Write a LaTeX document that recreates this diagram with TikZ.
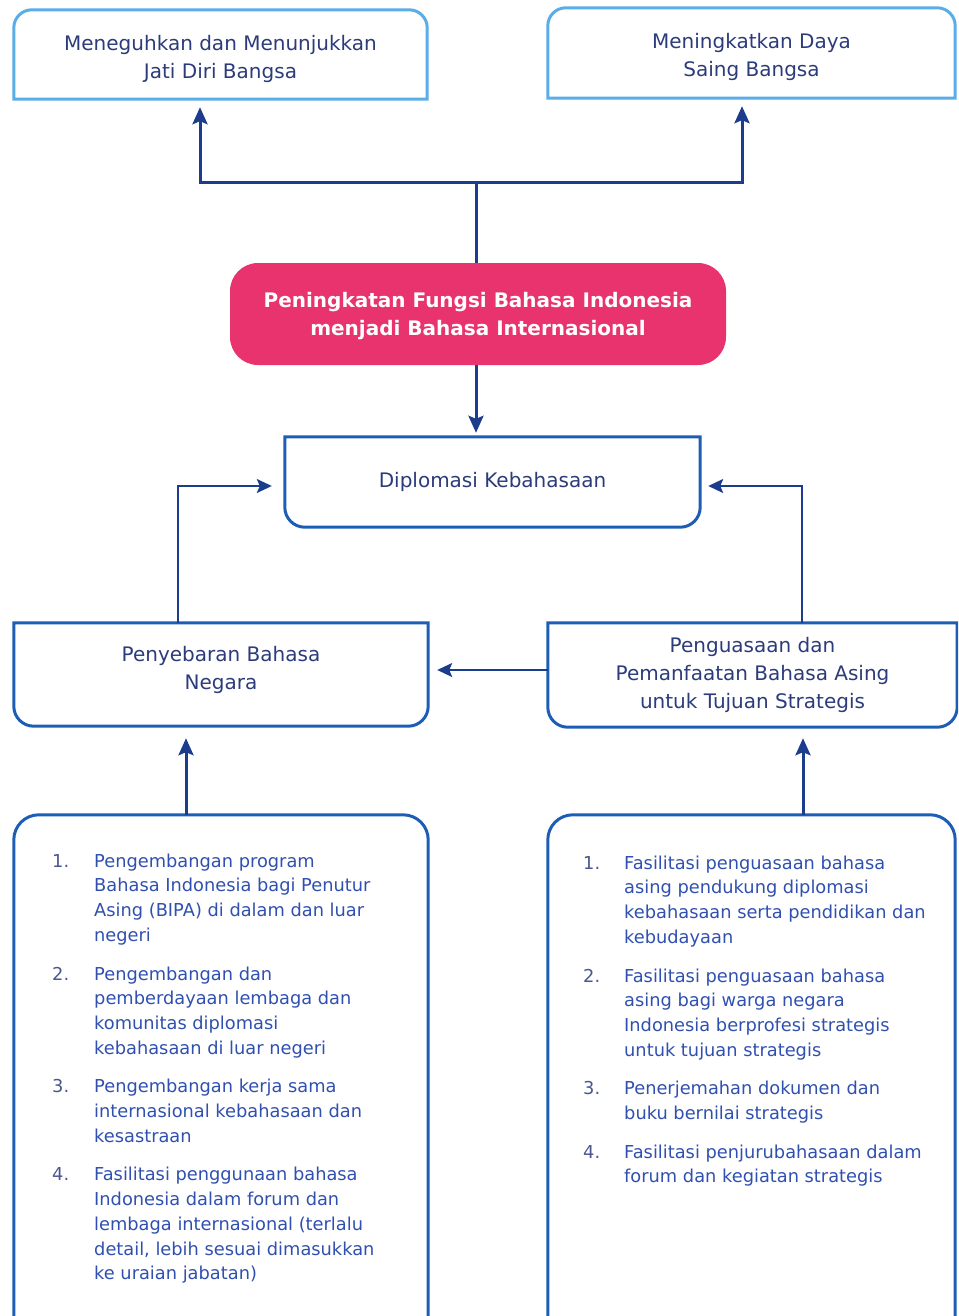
\documentclass[tikz,border=0pt]{standalone}
\usepackage{fontspec}
\setmainfont{DejaVu Sans}
\usetikzlibrary{arrows.meta,calc}

\definecolor{topc}{HTML}{5AAEE8}
\definecolor{midc}{HTML}{1E5DB6}
\definecolor{arrc}{HTML}{1B3D8C}
\definecolor{txtc}{HTML}{2C3B7A}
\definecolor{listc}{HTML}{3050B0}
\definecolor{numc}{HTML}{4A5690}
\definecolor{pinkc}{HTML}{E8336F}

\newcommand\toproundbox[3]{%
  \draw[#1] (#2.south west) -- ([yshift=-#3pt]#2.north west)
    arc[start angle=180,end angle=90,radius=#3pt]
    -- ([xshift=-#3pt]#2.north east)
    arc[start angle=90,end angle=0,radius=#3pt]
    -- (#2.south east) -- cycle;}
\newcommand\botroundbox[3]{%
  \draw[#1] (#2.north west) -- ([yshift=#3pt]#2.south west)
    arc[start angle=180,end angle=270,radius=#3pt]
    -- ([xshift=-#3pt]#2.south east)
    arc[start angle=270,end angle=360,radius=#3pt]
    -- (#2.north east) -- cycle;}
\newcommand\nm[1]{\textcolor{numc}{#1}}

\tikzset{
  boxtext/.style={inner sep=0pt, align=center, font=\fontsize{20}{28}\selectfont, text=txtc},
  topline/.style={draw=topc, line width=3pt},
  midline/.style={draw=midc, line width=3pt},
  thickln/.style={draw=arrc, line width=3pt},
  thickarr/.style={thickln, -{Stealth[length=17pt,width=15pt,inset=3pt]}},
  thinarr/.style={draw=arrc, line width=1.8pt, -{Stealth[length=15pt,width=14pt,inset=3pt]}},
  listtext/.style={inner sep=0pt, anchor=north west, font=\fontsize{17.8}{24.7}\selectfont, text=listc},
  pinkbox/.style={fill=pinkc, rounded corners=28pt, inner sep=0pt, align=center,
    font=\bfseries\fontsize{20}{28}\selectfont, text=white},
}

\begin{document}
\begin{tikzpicture}[x=1pt,y=1pt]
\useasboundingbox (0,0) rectangle (958,-1316);
\clip (0,0) rectangle (958,-1316);

% boxes
\node[boxtext, minimum width=413pt, minimum height=89pt] (t1) at (220.5,-54.5)
  {\rule{0pt}{25pt}Meneguhkan dan Menunjukkan\\Jati Diri Bangsa};
\node[boxtext, minimum width=407pt, minimum height=90pt] (t2) at (751.5,-53)
  {\rule{0pt}{23pt}Meningkatkan Daya\\Saing Bangsa};
\node[pinkbox, minimum width=496pt, minimum height=102pt] (pk) at (478,-314)
  {\rule{0pt}{19pt}Peningkatan Fungsi Bahasa Indonesia\\menjadi Bahasa Internasional};
\node[boxtext, minimum width=415pt, minimum height=90pt] (dip) at (492.5,-482)
  {Diplomasi Kebahasaan};
\node[boxtext, minimum width=414pt, minimum height=103pt] (pen) at (221,-674.5)
  {Penyebaran Bahasa\\Negara\rule[-12.7pt]{0pt}{1pt}};
\node[boxtext, minimum width=409pt, minimum height=104pt] (peng) at (752.5,-675)
  {Penguasaan dan\\Pemanfaatan Bahasa Asing\\untuk Tujuan Strategis};
\node[inner sep=0pt, minimum width=414pt, minimum height=515pt] (bl) at (221,-1072.5) {};
\node[inner sep=0pt, minimum width=407pt, minimum height=515pt] (br) at (751.5,-1072.5) {};

\toproundbox{topline}{t1}{18}
\toproundbox{topline}{t2}{18}
\botroundbox{midline}{dip}{20}
\botroundbox{midline}{pen}{20}
\botroundbox{midline}{peng}{20}
\toproundbox{midline}{bl}{25}
\toproundbox{midline}{br}{25}

% lists
\node[listtext] (l1) at (52,-849.7) {%
\begin{tabular}{@{}p{42pt}@{}l@{}}
\nm{1.} & Pengembangan program\\
 & Bahasa Indonesia bagi Penutur\\
 & Asing (BIPA) di dalam dan luar\\
 & negeri\\[14pt]
\nm{2.} & Pengembangan dan\\
 & pemberdayaan lembaga dan\\
 & komunitas diplomasi\\
 & kebahasaan di luar negeri\\[14pt]
\nm{3.} & Pengembangan kerja sama\\
 & internasional kebahasaan dan\\
 & kesastraan\\[14pt]
\nm{4.} & Fasilitasi penggunaan bahasa\\
 & Indonesia dalam forum dan\\
 & lembaga internasional (terlalu\\
 & detail, lebih sesuai dimasukkan\\
 & ke uraian jabatan)
\end{tabular}};
\node[listtext] (l2) at (583,-851.7) {%
\begin{tabular}{@{}p{41pt}@{}l@{}}
\nm{1.} & Fasilitasi penguasaan bahasa\\
 & asing pendukung diplomasi\\
 & kebahasaan serta pendidikan dan\\
 & kebudayaan\\[14pt]
\nm{2.} & Fasilitasi penguasaan bahasa\\
 & asing bagi warga negara\\
 & Indonesia berprofesi strategis\\
 & untuk tujuan strategis\\[14pt]
\nm{3.} & Penerjemahan dokumen dan\\
 & buku bernilai strategis\\[14pt]
\nm{4.} & Fasilitasi penjurubahasaan dalam\\
 & forum dan kegiatan strategis
\end{tabular}};

% connectors
\coordinate (j) at (476,-183);
\coordinate (ja) at (200,-183);
\coordinate (jb) at (742,-183);
\draw[thickln] (j |- pk.north) -- (j);
\draw[thickarr, shorten >=8pt] (j) -- (ja) -- (ja |- t1.south);
\draw[thickarr, shorten >=8pt] (j) -- (jb) -- (jb |- t2.south);
\draw[thickarr, shorten >=4pt] (j |- pk.south) -- (j |- dip.north);

\coordinate (lk) at (178,-486);
\coordinate (rk) at (802,-486);
\draw[thinarr, shorten >=13pt] (lk |- pen.north) -- (lk) -- (lk -| dip.west);
\draw[thinarr, shorten >=8pt] (rk |- peng.north) -- (rk) -- (rk -| dip.east);
\coordinate (mk) at (490,-670);
\draw[thinarr, shorten >=9pt] (mk -| peng.west) -- (mk -| pen.east);

\coordinate (bk1) at (186,-780);
\coordinate (bk2) at (803,-780);
\draw[thickarr, shorten >=12pt] (bk1 |- bl.north) -- (bk1 |- pen.south);
\draw[thickarr, shorten >=11pt] (bk2 |- br.north) -- (bk2 |- peng.south);
\end{tikzpicture}
\end{document}
